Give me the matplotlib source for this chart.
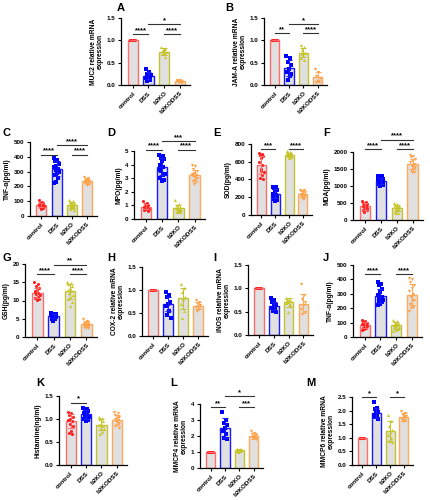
import numpy as np
import matplotlib
matplotlib.use("Agg")
import matplotlib.pyplot as plt

plt.rcParams['font.family'] = ['Liberation Sans', 'DejaVu Sans']
plt.rcParams['font.weight'] = 'bold'

groups = ['control', 'DSS', 'b2KO', 'b2KODSS']
edge_colors = ['#ff6b6b', '#1a1aff', '#c2c232', '#ffaa5a']
dot_colors = ['#ff2020', '#0000ff', '#c8c820', '#ff9f40']
markers = ['o', 's', '^', 'v']

# A  MUC2
muc2_mean = [1.0, 0.21, 0.75, 0.09]
muc2_sd = [0.0, 0.08, 0.07, 0.03]
muc2_pts = [[1.0] * 6,
            [0.35, 0.30, 0.25, 0.20, 0.18, 0.15, 0.12, 0.10, 0.22],
            [0.85, 0.80, 0.78, 0.75, 0.72, 0.70, 0.62, 0.78],
            [0.12, 0.10, 0.08, 0.06, 0.11, 0.09, 0.05]]
# B  JAM-A
jama_mean = [1.0, 0.38, 0.72, 0.18]
jama_sd = [0.0, 0.18, 0.10, 0.11]
jama_pts = [[1.0] * 6,
            [0.65, 0.60, 0.52, 0.45, 0.35, 0.30, 0.20, 0.12, 0.25],
            [0.90, 0.85, 0.78, 0.72, 0.65, 0.60, 0.55, 0.70],
            [0.35, 0.30, 0.20, 0.15, 0.10, 0.06, 0.08]]
# C  TNF-a
tnf1_mean = [75, 320, 75, 235]
tnf1_sd = [15, 50, 20, 15]
tnf1_pts = [[105, 95, 90, 85, 80, 78, 75, 70, 68, 65, 60, 55, 50, 72],
            [390, 380, 370, 350, 340, 330, 320, 310, 300, 290, 280, 260, 230, 220],
            [110, 100, 95, 90, 80, 75, 70, 65, 60, 55, 45, 40, 85],
            [265, 255, 250, 245, 240, 238, 235, 230, 228, 225, 220, 215, 210]]
# D  MPO
mpo_mean = [0.9, 3.85, 0.8, 3.2]
mpo_sd = [0.2, 0.6, 0.25, 0.4]
mpo_pts = [[1.3, 1.2, 1.1, 1.0, 0.95, 0.9, 0.85, 0.8, 0.75, 0.7, 0.65, 0.6, 1.0],
           [4.7, 4.6, 4.5, 4.4, 4.3, 4.0, 3.8, 3.5, 3.3, 3.2, 3.0, 2.9, 2.8, 3.6],
           [1.4, 1.1, 1.0, 0.9, 0.85, 0.8, 0.75, 0.7, 0.65, 0.6, 0.5, 0.55],
           [4.0, 3.9, 3.7, 3.5, 3.4, 3.3, 3.2, 3.1, 3.0, 2.9, 2.8, 2.7, 2.6, 3.2]]
# E  SOD
sod_mean = [560, 240, 680, 235]
sod_sd = [100, 50, 20, 30]
sod_pts = [[700, 690, 680, 660, 640, 600, 560, 520, 480, 450, 420, 400, 500],
           [320, 310, 300, 280, 260, 240, 230, 220, 200, 190, 180, 170, 160],
           [720, 710, 700, 695, 690, 685, 680, 675, 670, 665, 660, 650, 640],
           [285, 280, 270, 260, 250, 240, 230, 225, 220, 210, 200, 190, 180]]
# F  MDA
mda_mean = [400, 1150, 350, 1650]
mda_sd = [100, 90, 90, 150]
mda_pts = [[560, 540, 500, 470, 450, 420, 400, 380, 350, 330, 300, 280, 250],
           [1300, 1280, 1250, 1220, 1200, 1180, 1150, 1120, 1100, 1080, 1050, 1020, 1000],
           [500, 480, 450, 420, 400, 380, 350, 330, 300, 280, 250, 220, 200],
           [1900, 1870, 1840, 1800, 1750, 1700, 1650, 1600, 1550, 1500, 1460, 1420, 1400]]
# G  GSH
gsh_mean = [12.0, 5.8, 12.5, 3.5]
gsh_sd = [1.3, 0.6, 2.0, 0.6]
gsh_pts = [[15, 14.5, 14, 13.5, 13, 12.5, 12, 11.8, 11.5, 11, 10.8, 10.5, 10.2, 12.2],
           [6.5, 6.4, 6.3, 6.2, 6.0, 5.9, 5.8, 5.6, 5.5, 5.3, 5.0, 4.8, 4.5],
           [15, 14.8, 14.5, 14, 13.5, 13, 12.5, 12, 11.5, 11, 10.5, 9.5, 8.5],
           [5.0, 4.5, 4.2, 4.0, 3.8, 3.6, 3.5, 3.4, 3.2, 3.0, 2.8, 2.6, 2.5]]
# H  COX-2
cox2_mean = [1.0, 0.70, 0.82, 0.66]
cox2_sd = [0.0, 0.15, 0.23, 0.08]
cox2_pts = [[1.0] * 6,
            [0.95, 0.90, 0.85, 0.75, 0.70, 0.65, 0.55, 0.45, 0.40],
            [1.12, 1.05, 0.95, 0.85, 0.80, 0.70, 0.55, 0.40],
            [0.78, 0.75, 0.72, 0.68, 0.65, 0.62, 0.58, 0.55]]
# I  iNOS
inos_mean = [1.0, 0.62, 0.70, 0.67]
inos_sd = [0.0, 0.08, 0.09, 0.20]
inos_pts = [[1.0] * 6,
            [0.80, 0.75, 0.70, 0.65, 0.62, 0.58, 0.55, 0.52, 0.50],
            [0.80, 0.78, 0.75, 0.72, 0.70, 0.68, 0.65, 0.50],
            [1.10, 0.85, 0.78, 0.70, 0.62, 0.55, 0.50, 0.45]]
# J  TNF-a
tnf2_mean = [85, 285, 80, 295]
tnf2_sd = [20, 50, 22, 70]
tnf2_pts = [[120, 110, 105, 100, 95, 90, 85, 80, 75, 70, 65, 60, 55, 50],
            [380, 370, 360, 330, 310, 290, 280, 270, 260, 250, 245, 240, 230, 220],
            [120, 110, 100, 95, 90, 85, 80, 75, 70, 65, 60, 55, 50, 40],
            [410, 400, 380, 360, 340, 320, 300, 280, 260, 250, 230, 210, 200, 180]]
# K  Histamine
hist_mean = [0.96, 1.10, 0.88, 0.98]
hist_sd = [0.15, 0.09, 0.12, 0.10]
hist_pts = [[1.15, 1.12, 1.08, 1.05, 1.0, 0.98, 0.95, 0.90, 0.85, 0.75, 0.70, 0.68],
            [1.25, 1.22, 1.20, 1.18, 1.15, 1.12, 1.10, 1.08, 1.05, 1.02, 1.0, 0.98, 0.95],
            [1.05, 1.02, 1.0, 0.95, 0.90, 0.88, 0.85, 0.80, 0.78, 0.72, 0.68],
            [1.15, 1.12, 1.08, 1.05, 1.02, 1.0, 0.98, 0.95, 0.92, 0.88, 0.85, 0.80]]
# L  MMCP4
mmcp4_mean = [1.0, 2.5, 1.1, 2.0]
mmcp4_sd = [0.0, 0.6, 0.07, 0.17]
mmcp4_pts = [[1.0] * 6,
             [3.5, 3.0, 2.8, 2.7, 2.5, 2.3, 2.1, 1.9, 1.8],
             [1.2, 1.18, 1.15, 1.12, 1.1, 1.08, 1.05, 1.0],
             [2.3, 2.2, 2.1, 2.05, 2.0, 1.95, 1.9, 1.85, 1.8]]
# M  MMCP6
mmcp6_mean = [1.0, 1.9, 1.25, 1.75]
mmcp6_sd = [0.0, 0.18, 0.35, 0.15]
mmcp6_pts = [[1.0] * 6,
             [2.3, 2.1, 2.05, 1.95, 1.9, 1.85, 1.8, 1.75, 1.7],
             [1.85, 1.6, 1.45, 1.3, 1.2, 1.1, 1.0, 0.9, 0.85],
             [2.0, 1.9, 1.85, 1.8, 1.75, 1.7, 1.65, 1.6]]

W, H = 431, 500
fig = plt.figure(figsize=(W / 100, H / 100), dpi=100)


def panel(letter, box, mean, sd, pts, ylim, yticks, yticklabels, ylabel, sigs, letter_xy):
    l, t, r, b = box
    ax = fig.add_axes([l / W, 1 - b / H, (r - l) / W, (b - t) / H])
    x = np.arange(4)
    ax.bar(x, mean, width=0.65, color='#e0e0e0', edgecolor=edge_colors, linewidth=1.0, zorder=1)
    for i in range(4):
        n = len(pts[i])
        offs = (((np.arange(n) * 0.618) % 1.0) - 0.5) * 0.36
        ax.scatter(i + offs, pts[i], s=5, marker=markers[i], color=dot_colors[i],
                   linewidths=0, zorder=3, clip_on=False)
        ax.errorbar(i, mean[i], yerr=sd[i], color=edge_colors[i], capsize=2,
                    elinewidth=0.8, capthick=0.8, zorder=4)
    ax.set_xlim(-0.75, 3.65)
    ax.set_ylim(*ylim)
    ax.set_yticks(yticks)
    ax.set_yticklabels(yticklabels, fontsize=4.5, fontweight='bold')
    ax.set_xticks(x)
    ax.set_xticklabels(groups, rotation=45, ha='right', rotation_mode='anchor',
                       fontsize=4.6, fontweight='bold')
    ax.set_ylabel(ylabel, fontsize=4.8, fontweight='bold', labelpad=2, linespacing=1.0)
    for s in ['top', 'right']:
        ax.spines[s].set_visible(False)
    for s in ['left', 'bottom']:
        ax.spines[s].set_linewidth(0.9)
    ax.tick_params(length=2.5, width=0.8, pad=1.5)
    for i, j, y, txt in sigs:
        ax.plot([i, j], [y, y], color='#333333', lw=0.8, clip_on=False)
        ax.text((i + j) / 2, y, txt, ha='center', va='bottom', fontsize=5.5,
                fontweight='bold', clip_on=False)
    fig.text(letter_xy[0] / W, 1 - letter_xy[1] / H, letter, fontsize=8,
             fontweight='bold', ha='left', va='center')
    return ax


rel_ticks = [0, 0.5, 1.0, 1.5]
rel_labels = ['0.0', '0.5', '1.0', '1.5']

panel('A', (121, 18, 190, 85), muc2_mean, muc2_sd, muc2_pts, (0, 1.5), rel_ticks, rel_labels,
      'MUC2 relative mRNA\nexpression',
      [(0, 1, 1.14, '****'), (2, 3, 1.14, '****'), (1, 3, 1.37, '*')], (117, 8))
panel('B', (264, 18, 327, 85), jama_mean, jama_sd, jama_pts, (0, 1.5), rel_ticks, rel_labels,
      'JAM-A relative mRNA\nexpression',
      [(0, 1, 1.16, '**'), (2, 3, 1.16, '****'), (1, 3, 1.37, '*')], (225, 8))
panel('C', (30, 142, 97, 216), tnf1_mean, tnf1_sd, tnf1_pts, (0, 500),
      [0, 100, 200, 300, 400, 500], ['0', '100', '200', '300', '400', '500'],
      'TNF-α(pg/ml)',
      [(0, 1, 414, '****'), (2, 3, 414, '****'), (1, 3, 477, '****')], (3, 133))
panel('D', (134, 151, 205, 219), mpo_mean, mpo_sd, mpo_pts, (0, 5),
      [0, 1, 2, 3, 4, 5], ['0', '1', '2', '3', '4', '5'],
      'MPO(pg/ml)',
      [(0, 1, 5.1, '****'), (2, 3, 5.1, '****'), (1, 3, 5.75, '***')], (107, 133))
panel('E', (251, 144, 312, 215), sod_mean, sod_sd, sod_pts, (0, 800),
      [0, 200, 400, 600, 800], ['0', '200', '400', '600', '800'],
      'SOD(pg/ml)',
      [(0, 1, 744, '***'), (2, 3, 744, '****')], (213, 133))
panel('F', (353, 152, 423, 220), mda_mean, mda_sd, mda_pts, (0, 2000),
      [0, 500, 1000, 1500, 2000], ['0', '500', '1000', '1500', '2000'],
      'MDA(pg/ml)',
      [(0, 1, 2089, '****'), (2, 3, 2089, '****'), (1, 3, 2365, '****')], (323, 133))
panel('G', (25, 264, 97, 337), gsh_mean, gsh_sd, gsh_pts, (0, 20),
      [0, 5, 10, 15, 20], ['0', '5', '10', '15', '20'],
      'GSH(pg/ml)',
      [(0, 1, 17.3, '****'), (2, 3, 17.3, '****'), (1, 3, 19.8, '**')], (3, 258))
panel('H', (142, 267, 208, 336), cox2_mean, cox2_sd, cox2_pts, (0, 1.5), rel_ticks, rel_labels,
      'COX-2 relative mRNA\nexpression', [], (107, 258))
panel('I', (248, 265, 313, 335), inos_mean, inos_sd, inos_pts, (0, 1.5), rel_ticks, rel_labels,
      'iNOS relative mRNA\nexpression', [], (213, 258))
panel('J', (353, 265, 422, 337), tnf2_mean, tnf2_sd, tnf2_pts, (0, 500),
      [0, 100, 200, 300, 400, 500], ['0', '100', '200', '300', '400', '500'],
      'TNF-α(pg/ml)',
      [(0, 1, 435, '****'), (2, 3, 435, '****')], (323, 258))
panel('K', (59, 396, 127, 465), hist_mean, hist_sd, hist_pts, (0, 1.5), rel_ticks, rel_labels,
      'Histamine(ng/ml)',
      [(0, 1, 1.356, '*')], (36, 383))
panel('L', (200, 404, 263, 468), mmcp4_mean, mmcp4_sd, mmcp4_pts, (0, 4),
      [0, 1, 2, 3, 4], ['0', '1', '2', '3', '4'],
      'MMCP4 relative mRNA\nexpression',
      [(0, 1, 3.79, '**'), (2, 3, 3.79, '***'), (1, 3, 4.49, '*')], (170, 383))
panel('M', (352, 397, 413, 465), mmcp6_mean, mmcp6_sd, mmcp6_pts, (0, 2.5),
      [0, 0.5, 1.0, 1.5, 2.0, 2.5], ['0.0', '0.5', '1.0', '1.5', '2.0', '2.5'],
      'MMCP6 relative mRNA\nexpression',
      [(0, 1, 2.5, '*'), (2, 3, 2.5, '*')], (306, 383))

fig.savefig('out.png', dpi=100)
